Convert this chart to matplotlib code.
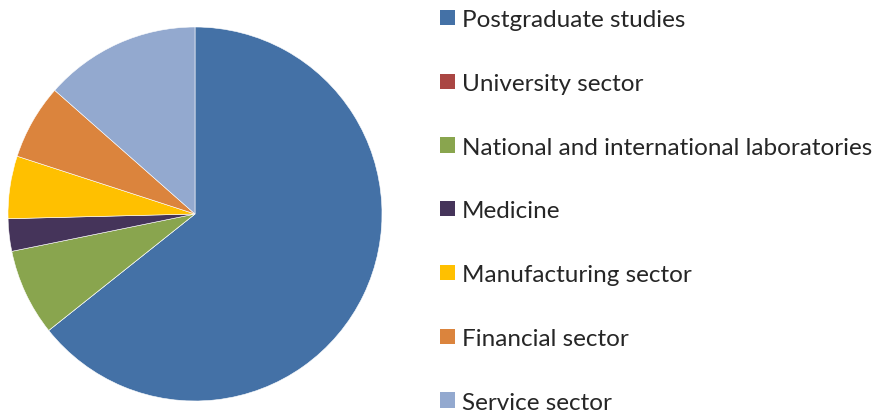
import matplotlib.pyplot as plt
from matplotlib.patches import Patch

labels = ['Postgraduate studies', 'University sector',
          'National and international laboratories', 'Medicine',
          'Manufacturing sector', 'Financial sector', 'Service sector']
values = [64.3, 0.0, 7.5, 2.8, 5.4, 6.5, 13.5]
colors = ['#4471A6', '#AA4643', '#89A54E', '#45345A', '#FFC000', '#DB843D', '#93A9CF']

plt.rcParams['font.family'] = ['Lato', 'DejaVu Sans']

fig = plt.figure(figsize=(8.87, 4.14), dpi=100)
ax = fig.add_axes([8 / 887, 12 / 414, 374 / 887, 374 / 414])
ax.pie(values, colors=colors, startangle=90, counterclock=False,
       radius=1, wedgeprops=dict(linewidth=0.4, edgecolor='white'))
ax.set_xlim(-1, 1)
ax.set_ylim(-1, 1)
ax.set_aspect('equal')
ax.axis('off')

handles = [Patch(facecolor=c, edgecolor='none') for c in colors]
leg = fig.legend(handles, labels, loc='upper left', bbox_to_anchor=(423 / 887, 1.0 + 7 / 414),
                 frameon=False, fontsize=17.5, handlelength=0.6, handleheight=0.6,
                 handletextpad=0.3, labelspacing=1.76, borderpad=0.2)
for t in leg.get_texts():
    t.set_color('#262626')

fig.savefig('out.png', dpi=100)
